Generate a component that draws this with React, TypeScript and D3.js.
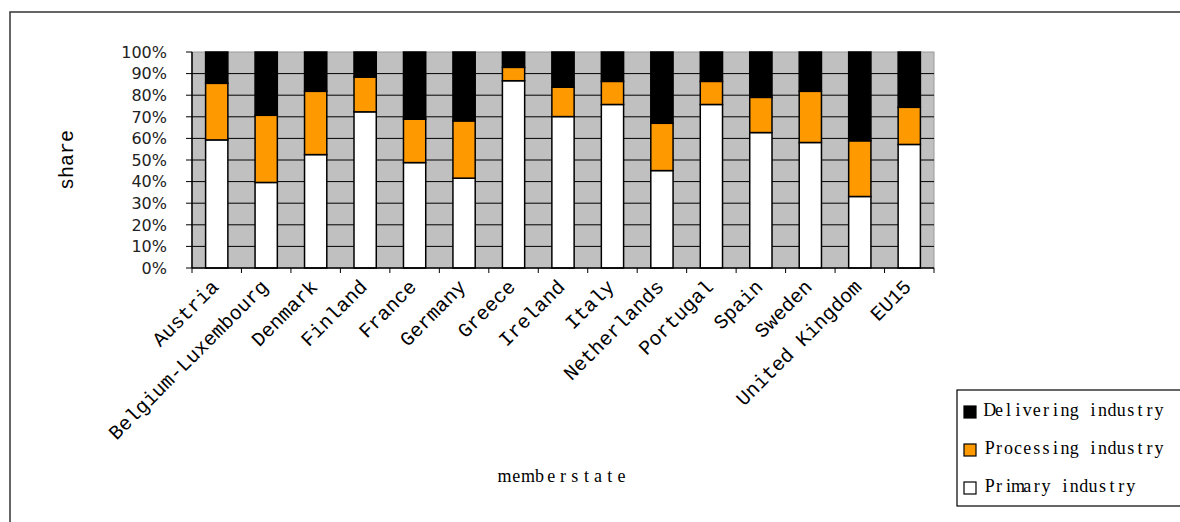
import React from 'react';
import * as d3 from 'd3';

const categories = [
  'Austria', 'Belgium-Luxembourg', 'Denmark', 'Finland', 'France', 'Germany', 'Greece',
  'Ireland', 'Italy', 'Netherlands', 'Portugal', 'Spain', 'Sweden', 'United Kingdom', 'EU15',
];
const primaryIndustry = [59.3, 39.6, 52.5, 72.3, 48.8, 41.6, 86.7, 70.1, 75.7, 45.1, 75.7, 62.7, 58.1, 33.1, 57.2];
const processingIndustry = [26.2, 31.1, 29.3, 16.1, 20.1, 26.5, 6.2, 13.6, 10.7, 21.9, 10.7, 16.3, 23.7, 25.8, 17.2];
const deliveringIndustry = [14.5, 29.3, 18.2, 11.6, 31.1, 31.9, 7.1, 16.3, 13.6, 33.0, 13.6, 21.0, 18.2, 41.1, 25.6];
const seriesKeys = ['Primary industry', 'Processing industry', 'Delivering industry'];
const legendOrder = ['Delivering industry', 'Processing industry', 'Primary industry'];
const yTicks = [0, 0.1, 0.2, 0.3, 0.4, 0.5, 0.6, 0.7, 0.8, 0.9, 1.0];
const xTitle = 'memberstate';
const yTitle = 'share';

const colors: Record<string, string> = {
  'Primary industry': '#FFFFFF',
  'Processing industry': '#FF9900',
  'Delivering industry': '#000000',
};

const MONO = "'Liberation Mono', 'Courier New', Cousine, monospace";

function SpacedText({ text, x0, adv, y, ...rest }: any) {
  const xs = text.split('').map((_: string, i: number) => (x0 + adv * (i + 0.5)).toFixed(2));
  return (
    <text x={xs.join(' ')} y={y} textAnchor="middle" {...rest}>
      {text}
    </text>
  );
}

export default function App() {
  const W = 1180;
  const H = 522;
  const left = 192, right = 934, top = 52, bottom = 268;

  const rows = categories.map((c, i) => ({
    cat: c,
    'Primary industry': primaryIndustry[i],
    'Processing industry': processingIndustry[i],
    'Delivering industry': deliveringIndustry[i],
  }));
  const stacked = d3.stack<any>().keys(seriesKeys).offset(d3.stackOffsetExpand)(rows);

  const x = d3.scaleBand<string>().domain(categories).range([left, right]).paddingInner(0.55).paddingOuter(0.275);
  const step = x.step();
  const y = d3.scaleLinear().domain([0, 1]).range([bottom, top]);
  const fmt = d3.format('.0%');

  const xTitleAdv = 11.7;
  const xTitleX0 = (left + right) / 2 - (xTitle.length * xTitleAdv) / 2;

  return (
    <svg width={W} height={H} style={{ position: 'absolute', left: 0, top: 0, background: '#fff' }}>
      {/* outer frame */}
      <rect x={10} y={12} width={1300} height={700} fill="#fff" stroke="#333" strokeWidth={1.5} />

      {/* plot area */}
      <rect x={left} y={top} width={right - left} height={bottom - top} fill="#C0C0C0" stroke="#9a9a9a" strokeWidth={1} />
      {yTicks.filter((t) => t > 0 && t < 1).map((t) => (
        <line key={t} x1={left} x2={right} y1={y(t)} y2={y(t)} stroke="#000" strokeWidth={1} />
      ))}

      {/* bars */}
      {stacked.map((s) => (
        <g key={s.key}>
          {s.map((d: any, i: number) => (
            <rect
              key={i}
              x={x(categories[i])}
              y={y(d[1])}
              width={x.bandwidth()}
              height={y(d[0]) - y(d[1])}
              fill={colors[s.key]}
              stroke="#000"
              strokeWidth={1.5}
            />
          ))}
        </g>
      ))}

      {/* axes */}
      <line x1={left} x2={left} y1={top} y2={bottom} stroke="#000" strokeWidth={1.5} />
      <line x1={left} x2={right} y1={bottom} y2={bottom} stroke="#000" strokeWidth={1.5} />
      {yTicks.map((t) => (
        <g key={t}>
          <line x1={left - 6} x2={left} y1={y(t)} y2={y(t)} stroke="#000" strokeWidth={1} />
          <text x={167} y={y(t)} dy="0.36em" textAnchor="end" fontFamily="DejaVu Sans" fontSize={16} fill="#222">
            {fmt(t)}
          </text>
        </g>
      ))}
      {d3.range(categories.length + 1).map((i) => (
        <line key={i} x1={left + i * step} x2={left + i * step} y1={bottom} y2={bottom + 5} stroke="#000" strokeWidth={1} />
      ))}
      {categories.map((c) => {
        const cx = (x(c) as number) + x.bandwidth() / 2;
        return (
          <text
            key={c}
            transform={`translate(${cx + 3},${bottom + 20}) rotate(-45)`}
            textAnchor="end"
            fontFamily={MONO}
            fontSize={20}
            fill="#000"
          >
            {c}
          </text>
        );
      })}

      {/* axis titles */}
      <text
        transform={`translate(73,${(top + bottom) / 2}) rotate(-90)`}
        textAnchor="middle"
        fontFamily={MONO}
        fontSize={20}
        fill="#000"
      >
        {yTitle}
      </text>
      <SpacedText text={xTitle} x0={xTitleX0} adv={xTitleAdv} y={482} fontFamily="'Liberation Serif', serif" fontSize={18} fill="#000" />

      {/* legend */}
      <rect x={957} y={390} width={300} height={116} fill="#fff" stroke="#000" strokeWidth={1.2} />
      {legendOrder.map((k, i) => (
        <g key={k}>
          <rect x={964} y={406 + i * 38} width={12} height={12} fill={colors[k]} stroke="#000" strokeWidth={1.2} />
          <SpacedText text={k} x0={985} adv={9.4} y={416 + i * 38} fontFamily="'Liberation Serif', serif" fontSize={18} fill="#000" />
        </g>
      ))}
    </svg>
  );
}
